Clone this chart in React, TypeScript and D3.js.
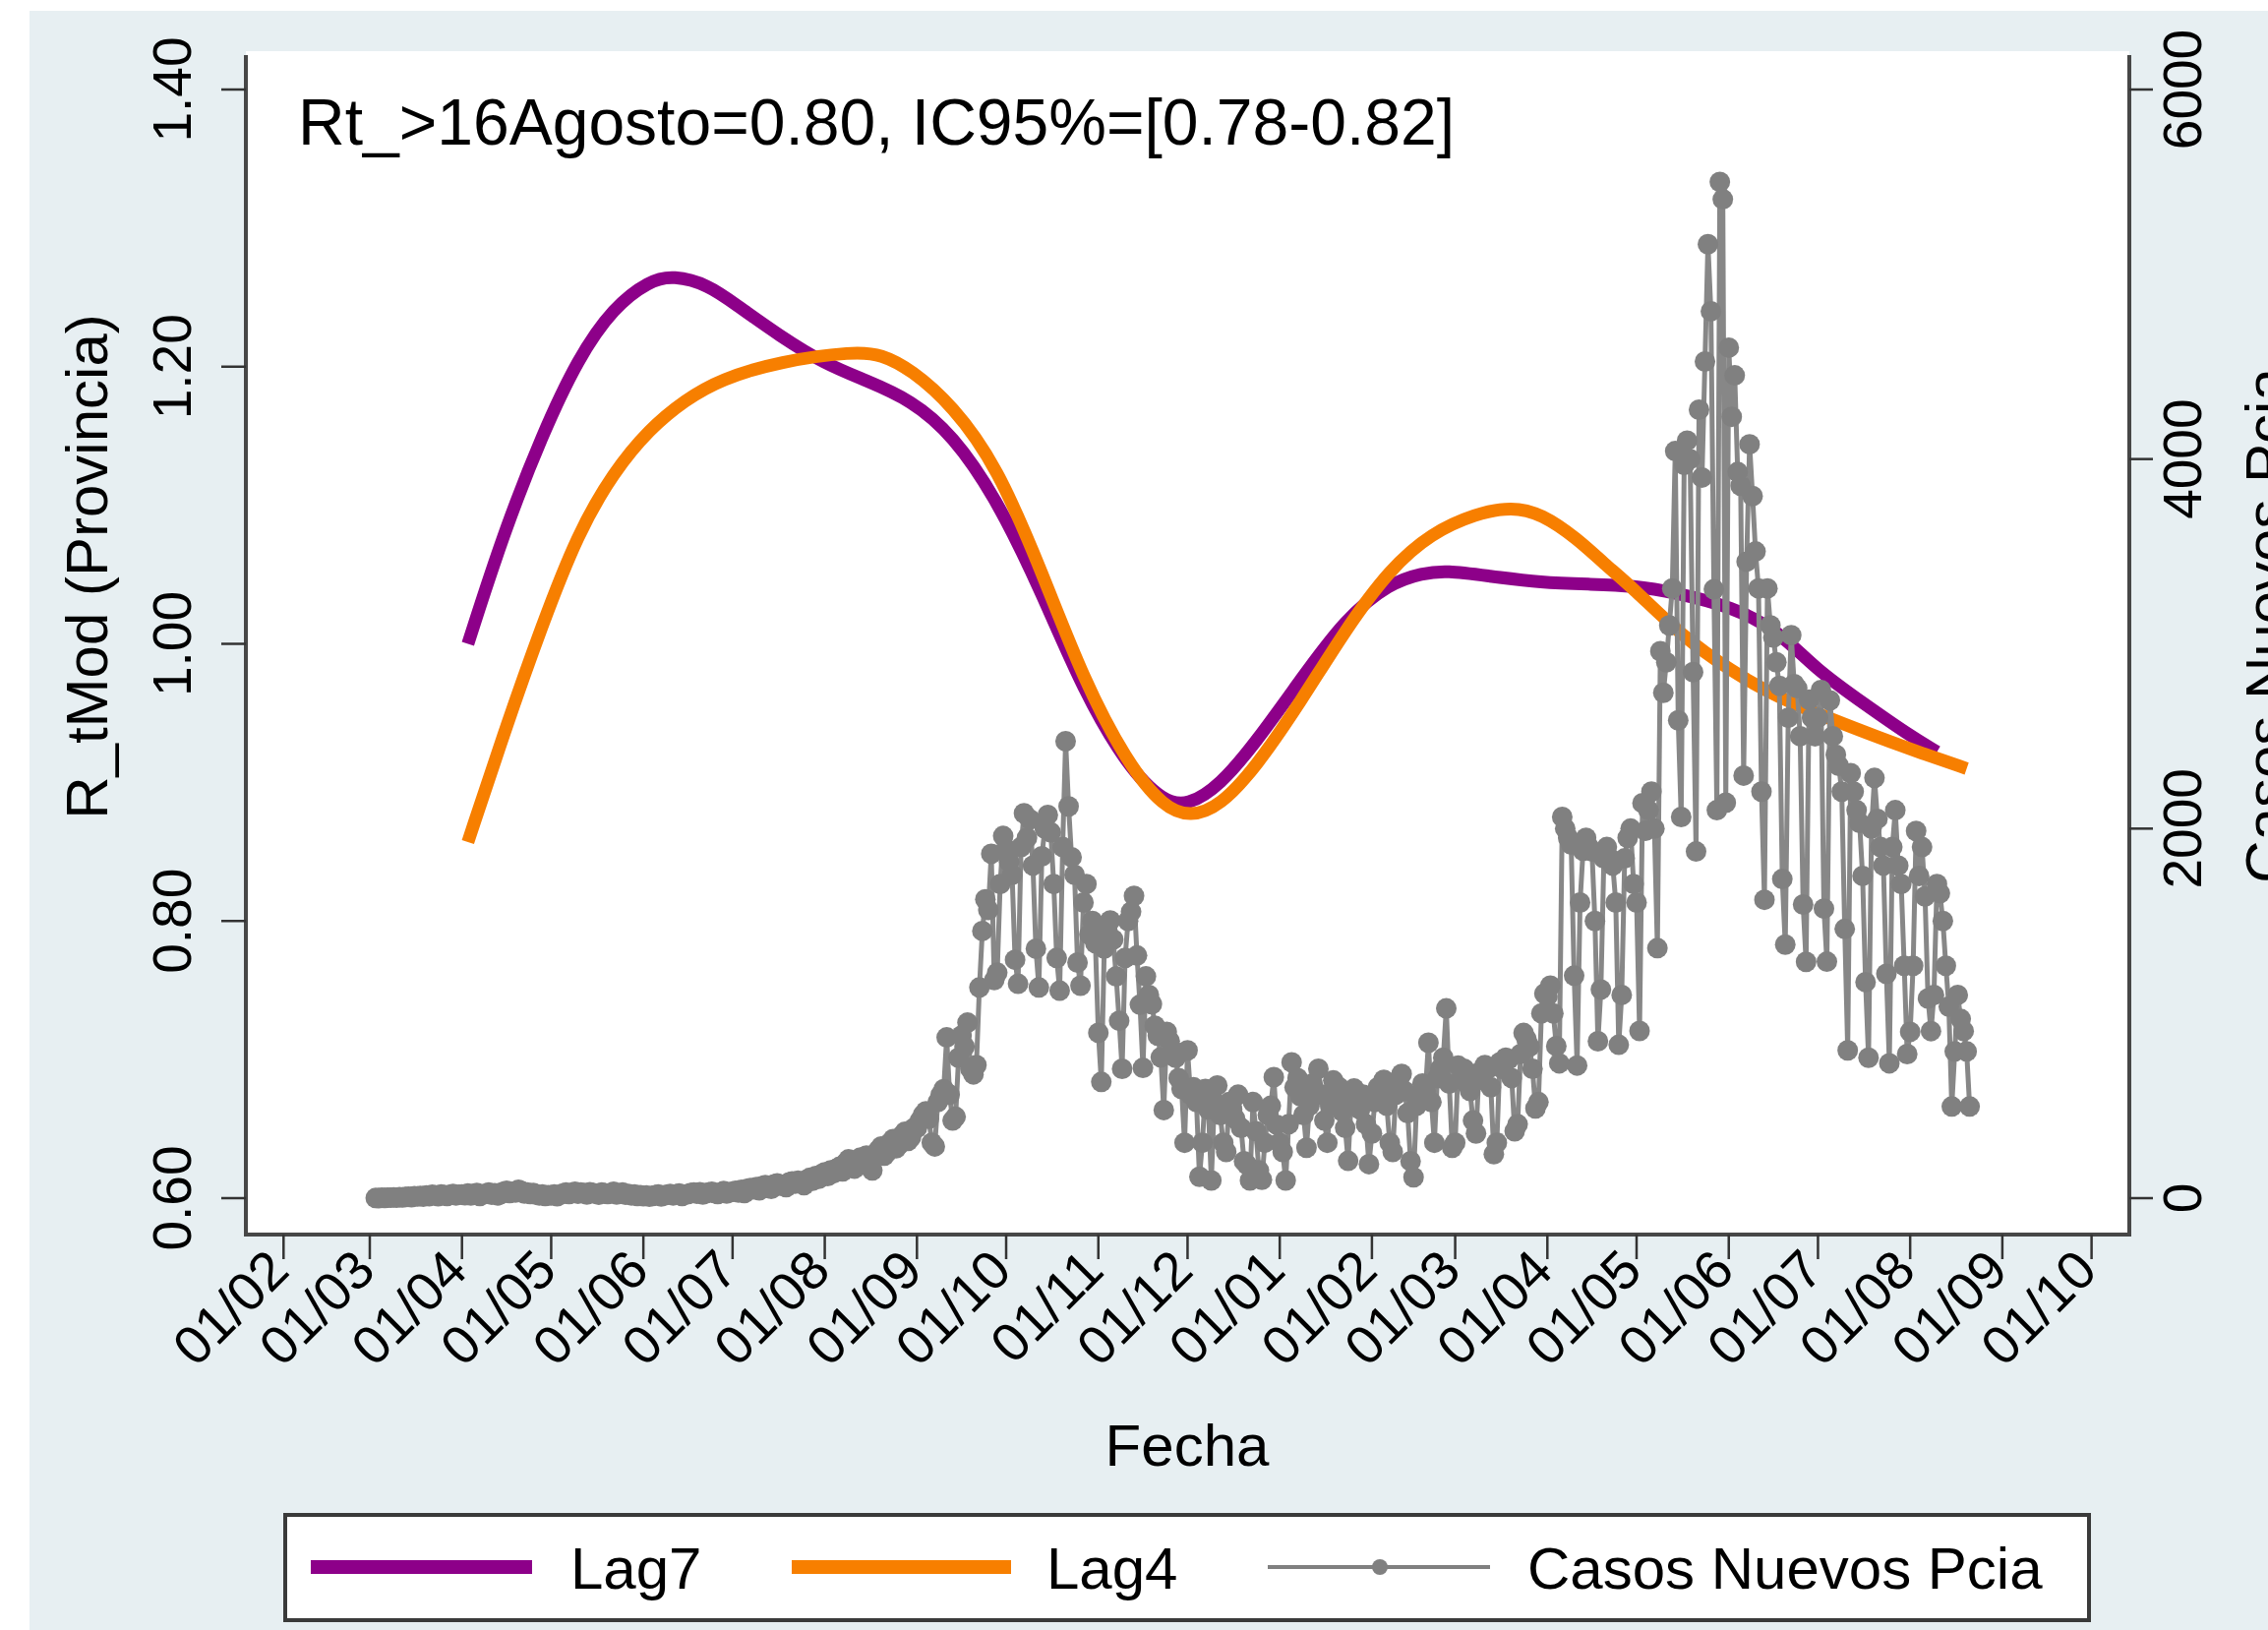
import React from "react";
import * as d3 from "d3";

const W = 2306;
const H = 1657;

// smoothed R_t curves
const lag7Dates = [
  "2020-04-03", "2020-04-15", "2020-04-28", "2020-05-10", "2020-05-22", "2020-06-03", "2020-06-11",
  "2020-06-23", "2020-07-02", "2020-07-17", "2020-08-01", "2020-08-15", "2020-08-30", "2020-09-13",
  "2020-09-28", "2020-10-13", "2020-10-27", "2020-11-11", "2020-11-23", "2020-12-01", "2020-12-12",
  "2020-12-24", "2021-01-08", "2021-01-23", "2021-02-07", "2021-02-18", "2021-02-26", "2021-03-12",
  "2021-03-30", "2021-04-16", "2021-04-30", "2021-05-14", "2021-06-02", "2021-06-18", "2021-06-30",
  "2021-07-17", "2021-07-31", "2021-08-10",
];
const lag7Values = [
  1.0, 1.08, 1.151, 1.206, 1.243, 1.262, 1.266,
  1.259, 1.245, 1.222, 1.202, 1.19, 1.176, 1.151,
  1.104, 1.037, 0.966, 0.911, 0.886, 0.883, 0.898,
  0.929, 0.974, 1.018, 1.044, 1.051, 1.053, 1.049,
  1.044, 1.043, 1.042, 1.037, 1.027, 1.009, 0.982,
  0.956, 0.935, 0.922,
];
const lag4Dates = [
  "2020-04-03", "2020-04-15", "2020-04-28", "2020-05-10", "2020-05-22", "2020-06-03", "2020-06-15",
  "2020-06-27", "2020-07-17", "2020-08-11", "2020-08-20", "2020-08-30", "2020-09-13", "2020-09-28",
  "2020-10-13", "2020-10-27", "2020-11-11", "2020-11-23", "2020-12-02", "2020-12-12", "2020-12-24",
  "2021-01-08", "2021-01-23", "2021-02-07", "2021-02-21", "2021-03-08", "2021-03-20", "2021-03-30",
  "2021-04-11", "2021-04-20", "2021-04-30", "2021-05-16", "2021-06-02", "2021-06-17", "2021-07-05",
  "2021-07-22", "2021-08-05", "2021-08-20",
];
const lag4Values = [
  0.857, 0.935, 1.014, 1.08, 1.124, 1.155, 1.176,
  1.191, 1.204, 1.211, 1.209, 1.198, 1.172, 1.128,
  1.052, 0.974, 0.913, 0.882, 0.875, 0.883, 0.911,
  0.958, 1.01, 1.054, 1.08, 1.094, 1.099, 1.094,
  1.076, 1.058, 1.04, 1.006, 0.98, 0.962, 0.946,
  0.932, 0.921, 0.91,
];

// daily new cases, one value per day starting at casosStart
const casosStart = "2020-03-03";
const casosMar20 = [1, 0, 2, 1, 3, 2, 4, 3, 5, 4, 6, 8, 5, 10, 9, 12, 8, 15, 11, 18, 14, 10, 20, 16, 12, 19, 22, 15, 18];
const casosApr20 = [20, 16, 25, 14, 22, 28, 12, 20, 24, 30, 18, 26, 15, 22, 34, 40, 28, 35, 30, 45, 38, 25, 30, 22, 28, 18, 15, 20, 12, 16];
const casosMay20 = [14, 20, 10, 18, 25, 30, 22, 28, 35, 24, 30, 26, 20, 32, 28, 24, 18, 30, 26, 22, 28, 34, 20, 25, 30, 18, 22, 15, 20, 12, 16];
const casosJun20 = [10, 14, 8, 12, 16, 20, 9, 14, 18, 22, 15, 20, 25, 12, 18, 22, 28, 30, 24, 32, 20, 26, 30, 35, 28, 22, 30, 38, 25, 32];
const casosJul20 = [35, 40, 30, 45, 28, 50, 55, 48, 60, 42, 65, 70, 55, 50, 75, 80, 68, 72, 60, 85, 90, 78, 95, 88, 70, 100, 110, 95, 120, 105, 130];
const casosAug20 = [140, 120, 150, 135, 160, 170, 145, 190, 210, 175, 160, 200, 220, 185, 230, 170, 150, 240, 260, 280, 230, 250, 300, 320, 270, 290, 340, 360, 310, 330, 380];
const casosSep20 = [380, 420, 450, 470, 430, 300, 280, 520, 560, 590, 870, 560, 420, 440, 760, 880, 820, 950, 700, 670, 720, 1140, 1446, 1617, 1560, 1864, 1180, 1220, 1700, 1960];
const casosOct20 = [1890, 1820, 1750, 1290, 1160, 1900, 2083, 1950, 2050, 1800, 1350, 1140, 1850, 2000, 2074, 1980, 1700, 1300, 1123, 1900, 2473, 2120, 1845, 1750, 1275, 1150, 1600, 1700, 1427, 1500, 1380];
const casosNov20 = [895, 629, 1351, 1450, 1503, 1400, 1200, 960, 700, 1300, 1500, 1550, 1636, 1313, 1047, 705, 1200, 1100, 1050, 933, 880, 762, 477, 900, 850, 800, 760, 650, 591, 300];
const casosDec20 = [800, 560, 600, 520, 116, 300, 591, 480, 96, 520, 610, 450, 300, 250, 520, 480, 430, 560, 380, 200, 180, 96, 520, 362, 150, 100, 300, 450, 500, 655, 397];
const casosJan21 = [300, 250, 96, 400, 735, 600, 650, 550, 450, 273, 500, 620, 580, 700, 560, 420, 300, 500, 637, 560, 600, 470, 380, 202, 520, 593, 540, 480, 560, 400, 184];
const casosFeb21 = [350, 520, 600, 560, 640, 500, 300, 250, 560, 620, 672, 580, 460, 200, 113, 500, 560, 620, 580, 841, 520, 300, 650, 700, 760, 1027, 620, 273];
const casosMar21 = [300, 717, 650, 700, 620, 580, 420, 350, 680, 640, 720, 700, 600, 238, 300, 735, 700, 760, 752, 650, 362, 400, 780, 894, 860, 820, 700, 486, 520, 1000, 1107];
const casosApr21 = [1092, 1150, 1000, 823, 730, 2063, 2000, 1950, 1914, 1204, 718, 1600, 1880, 1950, 1900, 1876, 1500, 849, 1129, 1839, 1900, 1839, 1800, 1600, 830, 1100, 1839, 1950, 2000, 1700];
const casosMay21 = [1600, 905, 2138, 1988, 2100, 2200, 2000, 1353, 2960, 2735, 2900, 3100, 3300, 4043, 2586, 2063, 3968, 4100, 4000, 2847, 1876, 4267, 3900, 4528, 5163, 4800, 3295, 2100, 5500, 5406, 2140];
const casosJun21 = [4603, 4229, 4453, 3930, 3856, 2287, 3445, 4080, 3800, 3500, 3300, 2200, 1615, 3300, 3100, 3034, 2900, 2773, 1727, 1372, 2600, 3047, 2782, 2760, 2500, 1589, 1279, 2698, 2600, 2500];
const casosJul21 = [2600, 2750, 1567, 1280, 2694, 2500, 2400, 2340, 2200, 1457, 800, 2300, 2200, 2100, 2031, 1744, 1169, 760, 2000, 2274, 2053, 1900, 1800, 1214, 730, 1900, 2100, 1800, 1700, 1258, 780];
const casosAug21 = [900, 1258, 1987, 1744, 1900, 1633, 1081, 904, 1100, 1700, 1650, 1500, 1258, 1037, 496, 794, 1100, 970, 904, 794, 496];

const yTicksLeft = [0.6, 0.8, 1.0, 1.2, 1.4];
const yTicksRight = [0, 2000, 4000, 6000];
const xTickDates = [
  "2020-02-01", "2020-03-01", "2020-04-01", "2020-05-01", "2020-06-01", "2020-07-01", "2020-08-01",
  "2020-09-01", "2020-10-01", "2020-11-01", "2020-12-01", "2021-01-01", "2021-02-01", "2021-03-01",
  "2021-04-01", "2021-05-01", "2021-06-01", "2021-07-01", "2021-08-01", "2021-09-01", "2021-10-01",
];

const PURPLE = "#8d0089";
const ORANGE = "#f77f00";
const GRAY = "#808080";
const FONT = "'Liberation Sans', Arial, sans-serif";

const parse = d3.utcParse("%Y-%m-%d");
const fmt = d3.utcFormat("%d/%m");

const App = () => {
  const plot = { left: 250, right: 2165, top: 52, bottom: 1255 };

  const x = d3.scaleUtc()
    .domain([parse("2020-02-01")!, parse("2021-10-01")!])
    .range([288.3, 2126.6]);
  const yL = d3.scaleLinear().domain([0.6, 1.4]).range([1218, 91]);
  const yR = d3.scaleLinear().domain([0, 6000]).range([1218, 91]);

  const lag7 = lag7Dates.map((d, i) => ({ date: parse(d)!, v: lag7Values[i] }));
  const lag4 = lag4Dates.map((d, i) => ({ date: parse(d)!, v: lag4Values[i] }));

  const casosVals = [
    ...casosMar20, ...casosApr20, ...casosMay20, ...casosJun20, ...casosJul20, ...casosAug20,
    ...casosSep20, ...casosOct20, ...casosNov20, ...casosDec20, ...casosJan21, ...casosFeb21,
    ...casosMar21, ...casosApr21, ...casosMay21, ...casosJun21, ...casosJul21, ...casosAug21,
  ];
  const start = parse(casosStart)!;
  const casos = casosVals.map((v, i) => ({ date: d3.utcDay.offset(start, i), v }));

  // the fits are smooth, so a B-spline through the read points
  const rtLine = d3.line<{ date: Date; v: number }>()
    .x(d => x(d.date))
    .y(d => yL(d.v))
    .curve(d3.curveBasis);
  const casosLine = d3.line<{ date: Date; v: number }>()
    .x(d => x(d.date))
    .y(d => yR(d.v));

  return (
    <svg width={W} height={H} style={{ position: "absolute", left: 0, top: 0 }} fontFamily={FONT}>
      <rect x={0} y={0} width={W} height={H} fill="#ffffff" />
      <rect x={30} y={11} width={W - 30} height={H - 11} fill="#e7eff2" />
      <rect x={plot.left} y={plot.top} width={plot.right - plot.left} height={plot.bottom - plot.top} fill="#ffffff" />

      {/* R_t curves */}
      <path d={rtLine(lag7) || ""} fill="none" stroke={PURPLE} strokeWidth={13} />
      <path d={rtLine(lag4) || ""} fill="none" stroke={ORANGE} strokeWidth={13} />

      {/* daily cases */}
      <path d={casosLine(casos) || ""} fill="none" stroke="#878787" strokeWidth={5} />
      {casos.map((d, i) => (
        <circle key={i} cx={x(d.date)} cy={yR(d.v)} r={10.5} fill={GRAY} />
      ))}

      {/* axes */}
      <g stroke="#474747" strokeWidth={4}>
        <line x1={plot.left} x2={plot.left} y1={56} y2={plot.bottom + 2} />
        <line x1={plot.right} x2={plot.right} y1={56} y2={plot.bottom + 2} />
        <line x1={plot.left - 2} x2={plot.right + 2} y1={plot.bottom} y2={plot.bottom} />
      </g>

      {yTicksLeft.map(t => (
        <g key={"l" + t}>
          <line x1={plot.left - 25} x2={plot.left} y1={yL(t)} y2={yL(t)} stroke="#333" strokeWidth={2.5} />
          <text x={194} y={yL(t)} transform={`rotate(-90, 194, ${yL(t)})`} textAnchor="middle" fontSize={55} fill="#000">
            {t.toFixed(2)}
          </text>
        </g>
      ))}
      {yTicksRight.map(t => (
        <g key={"r" + t}>
          <line x1={plot.right} x2={plot.right + 24} y1={yR(t)} y2={yR(t)} stroke="#333" strokeWidth={2.5} />
          <text x={2238} y={yR(t)} transform={`rotate(-90, 2238, ${yR(t)})`} textAnchor="middle" fontSize={55} fill="#000">
            {t}
          </text>
        </g>
      ))}
      {xTickDates.map(s => {
        const d = parse(s)!;
        const tx = x(d);
        return (
          <g key={s}>
            <line x1={tx} x2={tx} y1={plot.bottom} y2={plot.bottom + 25} stroke="#333" strokeWidth={2.5} />
            <text x={tx + 8} y={1294} transform={`rotate(-45, ${tx + 8}, 1294)`} textAnchor="end" fontSize={55} fill="#000">
              {fmt(d)}
            </text>
          </g>
        );
      })}

      {/* titles */}
      <text x={303} y={147} fontSize={66} fill="#000">Rt_&gt;16Agosto=0.80, IC95%=[0.78-0.82]</text>
      <text x={109} y={576} transform="rotate(-90, 109, 576)" textAnchor="middle" fontSize={60} fill="#000">
        R_tMod (Provincia)
      </text>
      <text x={2325} y={636} transform="rotate(-90, 2325, 636)" textAnchor="middle" fontSize={60} fill="#000">
        Casos Nuevos Pcia
      </text>
      <text x={1207} y={1490} textAnchor="middle" fontSize={60} fill="#000">Fecha</text>

      {/* legend */}
      <rect x={290} y={1540} width={1834} height={107} fill="#ffffff" stroke="#3a3a3a" strokeWidth={4} />
      <line x1={316} x2={541} y1={1593} y2={1593} stroke={PURPLE} strokeWidth={14} />
      <text x={580} y={1615} fontSize={60} fill="#000">Lag7</text>
      <line x1={805} x2={1028} y1={1593} y2={1593} stroke={ORANGE} strokeWidth={14} />
      <text x={1064} y={1615} fontSize={60} fill="#000">Lag4</text>
      <line x1={1289} x2={1515} y1={1593} y2={1593} stroke={GRAY} strokeWidth={4} />
      <circle cx={1403} cy={1593} r={8} fill={GRAY} />
      <text x={1553} y={1615} fontSize={60} fill="#000">Casos Nuevos Pcia</text>
    </svg>
  );
};

export default App;
